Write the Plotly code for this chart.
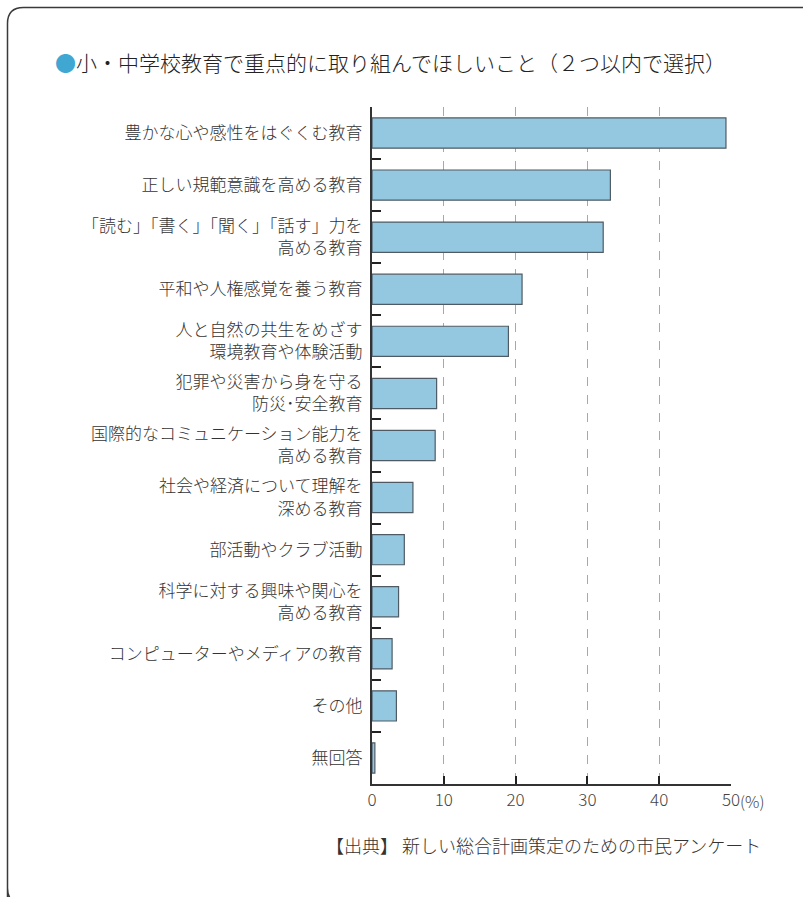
import plotly.graph_objects as go

# Survey: priorities for elementary / junior-high education (up to 2 choices)
categories = [
    "豊かな心や感性をはぐくむ教育",
    "正しい規範意識を高める教育",
    "「読む」「書く」「聞く」「話す」力を<br>高める教育",
    "平和や人権感覚を養う教育",
    "人と自然の共生をめざす<br>環境教育や体験活動",
    "犯罪や災害から身を守る<br>防災･安全教育",
    "国際的なコミュニケーション能力を<br>高める教育",
    "社会や経済について理解を<br>深める教育",
    "部活動やクラブ活動",
    "科学に対する興味や関心を<br>高める教育",
    "コンピューターやメディアの教育",
    "その他",
    "無回答",
]
percent = [49.3, 33.2, 32.2, 20.9, 19.0, 9.0, 8.8, 5.7, 4.5, 3.7, 2.8, 3.4, 0.4]

x_ticks = [0, 10, 20, 30, 40, 50]
x_tick_labels = ["0", "10", "20", "30", "40", "50"]
x_unit = "(%)"

title_text = "小・中学校教育で重点的に取り組んでほしいこと（２つ以内で選択）"
source_text = "【出典】 新しい総合計画策定のための市民アンケート"

FONT = "Noto Sans CJK JP"
W, H = 803, 897
L, R, T, B = 372, 72, 107, 113
plot_w = W - L - R
plot_h = H - T - B


def px(x):
    return (x - L) / plot_w


def py(y):
    return (H - B - y) / plot_h


fig = go.Figure(
    go.Bar(
        x=percent,
        y=categories,
        orientation="h",
        marker=dict(color="#94c8e0", line=dict(color="#4f5b64", width=1.2)),
        hoverinfo="x+y",
    )
)

# Rounded frame around the whole panel (right and bottom edges run off the page)
r = 16
x0, y0 = 7.5, 7.5
frame = (
    f"M {px(x0)},{py(920)} "
    f"L {px(x0)},{py(904 - r)} "
    f"Q {px(x0)},{py(904)} {px(x0 + r)},{py(904)} "
    f"M {px(x0)},{py(904 - r)} "
    f"L {px(x0)},{py(y0 + r)} "
    f"Q {px(x0)},{py(y0)} {px(x0 + r)},{py(y0)} "
    f"L {px(830)},{py(y0)}"
)

fig.update_layout(
    width=W,
    height=H,
    margin=dict(l=L, r=R, t=T, b=B),
    paper_bgcolor="white",
    plot_bgcolor="white",
    showlegend=False,
    bargap=0.42,
    font=dict(family=FONT, color="#333333", weight=300),
    xaxis=dict(
        range=[0, 50],
        tickvals=x_ticks,
        ticktext=x_tick_labels,
        ticks="inside",
        ticklen=8,
        tickwidth=2,
        tickcolor="#222222",
        showline=True,
        linecolor="#333333",
        linewidth=2,
        showgrid=True,
        gridcolor="#a8a8a8",
        gridwidth=1.3,
        griddash="dash",
        zeroline=False,
        tickfont=dict(size=17, color="#444444", family=FONT, weight=300),
        fixedrange=True,
    ),
    yaxis=dict(
        categoryorder="array",
        categoryarray=categories,
        range=[len(categories) - 0.5, -0.5],
        tickson="boundaries",
        ticks="inside",
        ticklen=9,
        tickwidth=2,
        tickcolor="#222222",
        showline=True,
        linecolor="#333333",
        linewidth=2,
        showgrid=False,
        zeroline=False,
        ticklabelstandoff=4,
        tickfont=dict(size=17, color="#333333", family=FONT, weight=300),
        fixedrange=True,
    ),
    shapes=[
        dict(
            type="path",
            xref="paper",
            yref="paper",
            path=frame,
            line=dict(color="#3a3a3a", width=1.5),
            layer="above",
        )
    ],
    annotations=[
        dict(
            text="<span style='color:#3fa7d2'>●</span>" + title_text,
            xref="paper",
            yref="paper",
            x=px(53),
            y=py(62),
            xanchor="left",
            yanchor="middle",
            showarrow=False,
            font=dict(size=21, color="#222222", family=FONT, weight=300),
        ),
        dict(
            text=x_unit,
            xref="x",
            yref="paper",
            x=x_ticks[-1],
            y=py(801),
            xanchor="left",
            yanchor="middle",
            xshift=7,
            showarrow=False,
            font=dict(size=16, color="#444444", family=FONT, weight=300),
        ),
        dict(
            text=source_text,
            xref="paper",
            yref="paper",
            x=px(763),
            y=py(845),
            xanchor="right",
            yanchor="middle",
            showarrow=False,
            font=dict(size=18, color="#333333", family=FONT, weight=300),
        ),
    ],
)

fig.write_html("out.html")
